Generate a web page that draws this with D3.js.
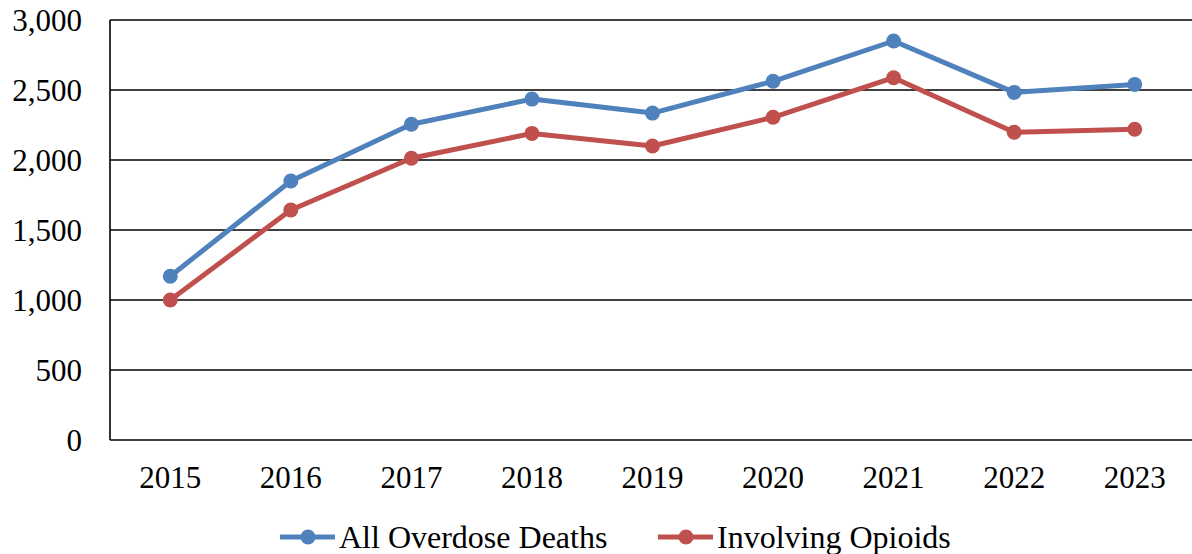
<!DOCTYPE html>
<html>
<head>
<meta charset="utf-8">
<script src="https://cdn.jsdelivr.net/npm/d3@7"></script>
<style>
  body { margin: 0; background: #fff; }
  svg text { font-family: "Liberation Serif", "Times New Roman", serif; fill: #000; }
</style>
</head>
<body>
<script>
var years = ["2015", "2016", "2017", "2018", "2019", "2020", "2021", "2022", "2023"];
var allDeaths = [1170, 1850, 2255, 2435, 2335, 2562, 2850, 2483, 2540];
var opioids = [1000, 1643, 2012, 2190, 2100, 2305, 2588, 2198, 2220];
var yTicks = [0, 500, 1000, 1500, 2000, 2500, 3000];
var seriesNames = ["All Overdose Deaths", "Involving Opioids"];
var colors = ["#4F81BD", "#C0504D"];

var m = { t: 20, r: 0, b: 114, l: 110 },
  W = 1192, H = 554,
  width = 1085,
  height = H - m.t - m.b;

var x = d3.scaleBand().domain(years).range([0, width]);
var y = d3.scaleLinear().domain([0, 3000]).range([height, 0]);

var svg = d3.select("body").append("svg")
  .attr("width", W)
  .attr("height", H);

var g = svg.append("g")
  .attr("transform", "translate(" + m.l + "," + m.t + ")");

// gridlines
g.selectAll(".grid")
  .data(yTicks)
  .enter().append("line")
  .attr("x1", 0)
  .attr("x2", width)
  .attr("y1", function(d) { return y(d); })
  .attr("y2", function(d) { return y(d); })
  .attr("stroke", "#000")
  .attr("stroke-width", 1.6);

// left axis line
g.append("line")
  .attr("x1", 0).attr("x2", 0)
  .attr("y1", 0).attr("y2", height)
  .attr("stroke", "#000")
  .attr("stroke-width", 1.6);

// y labels
g.selectAll(".ylab")
  .data(yTicks)
  .enter().append("text")
  .attr("x", -28)
  .attr("y", function(d) { return y(d) + 11; })
  .attr("text-anchor", "end")
  .style("font-size", "31px")
  .text(d3.format(","));

// x labels
g.selectAll(".xlab")
  .data(years)
  .enter().append("text")
  .attr("x", function(d) { return x(d) + x.bandwidth() / 2; })
  .attr("y", height + 48)
  .attr("text-anchor", "middle")
  .style("font-size", "31px")
  .text(function(d) { return d; });

var line = d3.line()
  .x(function(d, i) { return x(years[i]) + x.bandwidth() / 2; })
  .y(function(d) { return y(d); });

[allDeaths, opioids].forEach(function(vals, k) {
  g.append("path")
    .datum(vals)
    .attr("fill", "none")
    .attr("stroke", colors[k])
    .attr("stroke-width", 5)
    .attr("stroke-linejoin", "round")
    .attr("d", line);

  g.selectAll(".dot" + k)
    .data(vals)
    .enter().append("circle")
    .attr("cx", function(d, i) { return x(years[i]) + x.bandwidth() / 2; })
    .attr("cy", function(d) { return y(d); })
    .attr("r", 7.5)
    .attr("fill", colors[k]);
});

// legend
var legX = [280, 658];
var leg = svg.selectAll(".legend")
  .data(seriesNames)
  .enter().append("g")
  .attr("transform", function(d, i) { return "translate(" + legX[i] + ",537)"; });

leg.append("line")
  .attr("x1", 0).attr("x2", 55)
  .attr("stroke", function(d, i) { return colors[i]; })
  .attr("stroke-width", 5);

leg.append("circle")
  .attr("cx", 28)
  .attr("r", 7.5)
  .attr("fill", function(d, i) { return colors[i]; });

leg.append("text")
  .attr("x", 59)
  .attr("y", 11)
  .style("font-size", "32px")
  .text(function(d) { return d; });
</script>
</body>
</html>
